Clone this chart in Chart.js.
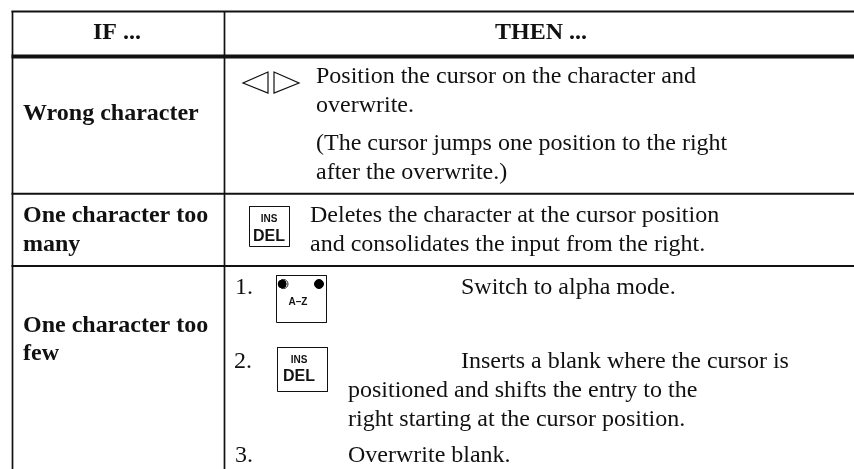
<!DOCTYPE html>
<html>
<head>
<meta charset="utf-8">
<title>IF / THEN table</title>
<script src="https://cdn.jsdelivr.net/npm/chart.js@4"></script>
<style>
    html, body { margin: 0; padding: 0; background: #fff; overflow: hidden; }
    canvas { display: block; filter: blur(0.3px); }
</style>
</head>
<body>
<canvas id="tableChart" width="854" height="469"></canvas>
<script>
// Text of the table
const headerLabels = ['IF ...', 'THEN ...'];
const rowLabels = ['Wrong character', 'One character too', 'many', 'One character too', 'few'];
const thenLines = [
    'Position the cursor on the character and',
    'overwrite.',
    '(The cursor jumps one position to the right',
    'after the overwrite.)',
    'Deletes the character at the cursor position',
    'and consolidates the input from the right.',
    '1.',
    'Switch to alpha mode.',
    '2.',
    'Inserts a blank where the cursor is',
    'positioned and shifts the entry to the',
    'right starting at the cursor position.',
    '3.',
    'Overwrite blank.'
];
const keyLabels = ['INS', 'DEL', 'A\u2013Z', 'INS', 'DEL'];

// Where the text and rules sit, in axis units (same as the 854x469 page)
const headerX = [117, 541];
const headerY = [39, 39];
const rowLabelX = [23, 23, 23, 23, 23];
const rowLabelY = [120, 222, 251, 332, 360];
const thenX = [316, 316, 316, 316, 310, 310, 235, 461, 234, 461, 348, 348, 235, 348];
const thenY = [83, 112, 150, 179, 222, 251, 294, 294, 368, 368, 397, 426, 462, 462];
const keyX = [269, 269, 298, 299, 299];
const keyY = [222, 241, 305, 363, 381];
const keySizes = [10, 16, 10, 10, 16];
const columnRules = [12.5, 224.5];
const rowRules = [11.5, 56.5, 193.8, 266];
const rowRuleWidths = [1.8, 4, 2, 2];

const keyBoxes = [[249.5, 206.5, 289.5, 246.5], [276.5, 275.5, 326.5, 322.5], [277.5, 347.5, 327.5, 391.5]];
const leftTriangle = [[268, 72], [243, 83], [268, 93]];
const rightTriangle = [[274, 72], [299, 83], [274, 93]];
const keyDots = [[319, 284]];

function lineDataset(points, width, closed) {
    const data = points.map(p => ({ x: p[0], y: p[1] }));
    if (closed) data.push(data[0]);
    return {
        type: 'line',
        data: data,
        borderColor: '#111',
        borderWidth: width,
        borderCapStyle: closed ? 'square' : 'butt',
        pointRadius: 0,
        tension: 0,
        fill: false
    };
}

function pointDataset(points, radius, fill, border) {
    return {
        type: 'scatter',
        data: points.map(p => ({ x: p[0], y: p[1] })),
        backgroundColor: fill,
        borderColor: border,
        borderWidth: 1,
        pointRadius: radius
    };
}

const datasets = [];
// Chart.js paints the first dataset last, so the inner black dot has to come first
datasets.push(pointDataset([[282.2, 284]], 4, '#000', '#000'));
datasets.push(pointDataset([[283.4, 284]], 4.6, '#fff', '#222'));
datasets.push(pointDataset(keyDots, 4.5, '#000', '#000'));
rowRules.forEach((y, i) => datasets.push(lineDataset([[columnRules[0] - 1, y], [854, y]], rowRuleWidths[i])));
columnRules.forEach(x => datasets.push(lineDataset([[x, 11], [x, 469]], 1.7)));
keyBoxes.forEach(b => datasets.push(lineDataset([[b[0], b[1]], [b[2], b[1]], [b[2], b[3]], [b[0], b[3]]], 1, true)));
datasets.push(lineDataset(leftTriangle, 1.2, true));
datasets.push(lineDataset(rightTriangle, 1.2, true));

// Chart.js has no table text, so the labels go on through the scales here
const tableText = {
    id: 'tableText',
    afterDatasetsDraw(chart) {
        const { ctx, scales } = chart;
        const put = (text, x, y, font, align) => {
            ctx.font = font;
            ctx.textAlign = align;
            ctx.fillText(text, scales.x.getPixelForValue(x), scales.y.getPixelForValue(y));
        };
        ctx.save();
        ctx.fillStyle = '#111';
        ctx.textBaseline = 'alphabetic';
        const bold = 'bold 24px "Liberation Serif"';
        const plain = '24px "Liberation Serif"';
        headerLabels.forEach((t, i) => put(t, headerX[i], headerY[i], bold, 'center'));
        rowLabels.forEach((t, i) => put(t, rowLabelX[i], rowLabelY[i], bold, 'left'));
        thenLines.forEach((t, i) => put(t, thenX[i], thenY[i], plain, 'left'));
        keyLabels.forEach((t, i) => put(t, keyX[i], keyY[i], 'bold ' + keySizes[i] + 'px "Liberation Sans"', 'center'));
        ctx.restore();
    }
};

new Chart(document.getElementById('tableChart').getContext('2d'), {
    data: { datasets: datasets },
    options: {
        responsive: false,
        animation: false,
        events: [],
        layout: { padding: 0, autoPadding: false },
        plugins: {
            legend: { display: false },
            tooltip: { enabled: false }
        },
        scales: {
            x: { type: 'linear', min: 0, max: 854, display: false },
            y: { type: 'linear', min: 0, max: 469, reverse: true, display: false }
        }
    },
    plugins: [tableText]
});
</script>
</body>
</html>
